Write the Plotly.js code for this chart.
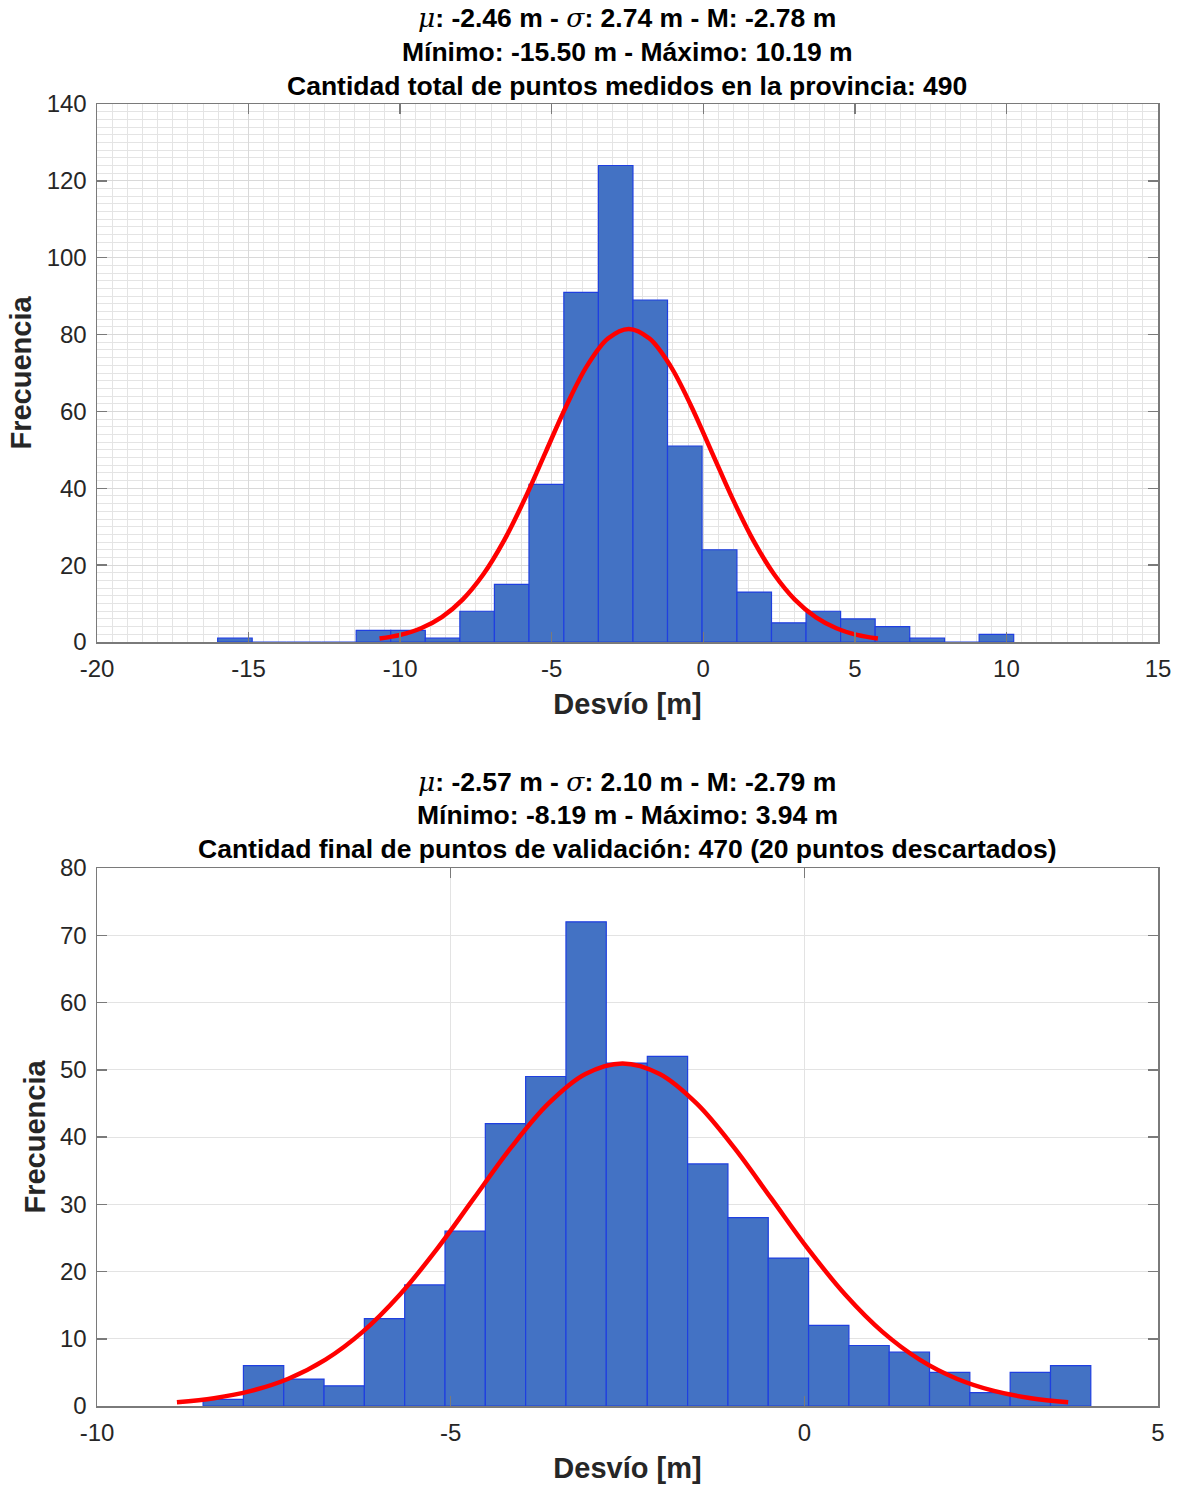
<!DOCTYPE html>
<html>
<head>
<meta charset="utf-8">
<script src="https://cdn.plot.ly/plotly-3.0.1.min.js"></script>
<style>
html,body{margin:0;padding:0;background:#fff;}
#chart{width:1178px;height:1488px;}
</style>
</head>
<body>
<div id="chart"></div>
<script>
// ---------- Data: top histogram (all measured points) ----------
const topEdges = [-16.02, -14.88, -13.74, -12.60, -11.45, -10.31, -9.17, -8.03, -6.89, -5.75,
  -4.60, -3.46, -2.32, -1.18, -0.04, 1.11, 2.25, 3.39, 4.53, 5.67, 6.81, 7.96, 9.10, 10.24];
const topCounts = [1, 0, 0, 0, 3, 3, 1, 8, 15, 41, 91, 124, 89, 51, 24, 13, 5, 8, 6, 4, 1, 0, 2];
// fitted normal curve
const topCurveX = [-10.68, -9.995, -9.31, -8.625, -7.94, -7.255, -6.57, -5.885, -5.20, -4.515,
  -3.83, -3.145, -2.46, -1.775, -1.09, -0.405, 0.28, 0.965, 1.65, 2.335, 3.02, 3.705, 4.39, 5.075, 5.76];
const topCurveY = [0.91, 1.86, 3.58, 6.48, 11.03, 17.62, 26.45, 37.30, 49.42, 61.50, 71.91, 78.97,
  81.48, 78.97, 71.91, 61.50, 49.42, 37.30, 26.45, 17.62, 11.03, 6.48, 3.58, 1.86, 0.91];
const topTitle = ["μ", ": -2.46 m - ", "σ", ": 2.74 m - M: -2.78 m",
  "Mínimo: -15.50 m - Máximo: 10.19 m",
  "Cantidad total de puntos medidos en la provincia: 490"];

// ---------- Data: bottom histogram (validation points) ----------
const botEdges = [-8.50, -7.93, -7.36, -6.79, -6.22, -5.65, -5.08, -4.51, -3.94, -3.37, -2.80,
  -2.22, -1.65, -1.08, -0.51, 0.06, 0.63, 1.20, 1.77, 2.34, 2.91, 3.48, 4.05];
const botCounts = [1, 6, 4, 3, 13, 18, 26, 42, 49, 72, 51, 52, 36, 28, 22, 12, 9, 8, 5, 2, 5, 6];
const botCurveX = [-8.87, -8.345, -7.82, -7.295, -6.77, -6.245, -5.72, -5.195, -4.67, -4.145,
  -3.62, -3.095, -2.57, -2.045, -1.52, -0.995, -0.47, 0.055, 0.58, 1.105, 1.63, 2.155, 2.68, 3.205, 3.73];
const botCurveY = [0.57, 1.16, 2.24, 4.05, 6.89, 11.02, 16.54, 23.32, 30.90, 38.45, 44.95, 49.37,
  50.94, 49.37, 44.95, 38.45, 30.90, 23.32, 16.54, 11.02, 6.89, 4.05, 2.24, 1.16, 0.57];
const botTitle = ["μ", ": -2.57 m - ", "σ", ": 2.10 m - M: -2.79 m",
  "Mínimo: -8.19 m - Máximo: 3.94 m",
  "Cantidad final de puntos de validación: 470 (20 puntos descartados)"];

const xTitle = "Desvío [m]";
const yTitle = "Frecuencia";
const topXTicks = [-20, -15, -10, -5, 0, 5, 10, 15];
const topXLabels = ["-20", "-15", "-10", "-5", "0", "5", "10", "15"];
const topYTicks = [0, 20, 40, 60, 80, 100, 120, 140];
const botXTicks = [-10, -5, 0, 5];
const botXLabels = ["-10", "-5", "0", "5"];
const botYTicks = [0, 10, 20, 30, 40, 50, 60, 70, 80];

// ---------- helpers ----------
function centers(e){ const c=[]; for(let i=0;i<e.length-1;i++) c.push((e[i]+e[i+1])/2); return c; }
function widths(e){ const w=[]; for(let i=0;i<e.length-1;i++) w.push(e[i+1]-e[i]); return w; }

const barFill = '#4372c4';
const barEdge = '#1f3fe0';
const txt = '#262626';
const FONT = 'Liberation Sans, Arial, sans-serif';

const traces = [
  {type:'bar', x:centers(topEdges), y:topCounts, width:widths(topEdges), xaxis:'x', yaxis:'y',
   marker:{color:barFill, line:{color:barEdge, width:1.2}}, hoverinfo:'x+y', showlegend:false},
  {type:'scatter', mode:'lines', x:topCurveX, y:topCurveY, xaxis:'x', yaxis:'y',
   line:{color:'#ff0000', width:4.5, shape:'spline'}, showlegend:false},
  {type:'bar', x:centers(botEdges), y:botCounts, width:widths(botEdges), xaxis:'x2', yaxis:'y2',
   marker:{color:barFill, line:{color:barEdge, width:1.2}}, hoverinfo:'x+y', showlegend:false},
  {type:'scatter', mode:'lines', x:botCurveX, y:botCurveY, xaxis:'x2', yaxis:'y2',
   line:{color:'#ff0000', width:4.5, shape:'spline'}, showlegend:false}
];

const H = 1488, W = 1178;
const xDom = [97/W, 1158/W];
const topDom = [1-642/H, 1-104/H];
const botDom = [1-1406/H, 1-868/H];

function axisBase(){
  return {
    showline:true, linecolor:'#7a7a7a', linewidth:1.5, mirror:'ticks',
    ticks:'inside', ticklen:10, tickwidth:1.5, tickcolor:'#7a7a7a',
    tickfont:{family:FONT, size:24, color:txt},
    zeroline:false, fixedrange:true
  };
}
const axTitleFont = {family:FONT, size:29, color:txt};

const xa1 = Object.assign(axisBase(), {domain:xDom, anchor:'y', range:[-20,15],
  tickvals:topXTicks, ticktext:topXLabels, ticklabelstandoff:5,
  showgrid:true, gridcolor:'#d9d9d9', gridwidth:1,
  minor:{dtick:0.5, showgrid:true, gridcolor:'#e4e4e4', gridwidth:1, ticks:''},
  title:{text:'<b>'+xTitle+'</b>', font:axTitleFont, standoff:12}});
const ya1 = Object.assign(axisBase(), {domain:topDom, anchor:'x', range:[0,140], tickvals:topYTicks,
  ticklabelstandoff:4,
  showgrid:true, gridcolor:'#d9d9d9', gridwidth:1,
  minor:{dtick:2, showgrid:true, gridcolor:'#e4e4e4', gridwidth:1, ticks:''},
  title:{text:'<b>'+yTitle+'</b>', font:axTitleFont, standoff:6}});
const xa2 = Object.assign(axisBase(), {domain:xDom, anchor:'y2', range:[-10,5],
  tickvals:botXTicks, ticktext:botXLabels, ticklabelstandoff:5,
  showgrid:true, gridcolor:'#e3e3e3', gridwidth:1,
  title:{text:'<b>'+xTitle+'</b>', font:axTitleFont, standoff:12}});
const ya2 = Object.assign(axisBase(), {domain:botDom, anchor:'x2', range:[0,80], tickvals:botYTicks,
  ticklabelstandoff:4,
  showgrid:true, gridcolor:'#e3e3e3', gridwidth:1,
  title:{text:'<b>'+yTitle+'</b>', font:axTitleFont, standoff:6}});

function greek(ch){ return '<span style="font-family:DejaVu Serif;font-weight:normal;font-style:italic">'+ch+'</span>'; }
function titleAnn(t, yTopPx){
  const lines = [
    greek(t[0]) + '<b>' + t[1] + '</b>' + greek(t[2]) + '<b>' + t[3] + '</b>',
    '<b>' + t[4] + '</b>',
    '<b>' + t[5] + '</b>'
  ];
  return lines.map((s,i)=>({
    text:s, xref:'paper', yref:'paper', x:(xDom[0]+xDom[1])/2, y:1-(yTopPx+i*34)/H,
    xanchor:'center', yanchor:'middle', showarrow:false,
    font:{family:FONT, size:26.5, color:'#000'}
  }));
}

const layout = {
  width:W, height:H, margin:{l:0,r:0,t:0,b:0},
  paper_bgcolor:'#ffffff', plot_bgcolor:'#ffffff',
  barmode:'overlay', bargap:0, showlegend:false,
  xaxis:xa1, yaxis:ya1, xaxis2:xa2, yaxis2:ya2,
  annotations: titleAnn(topTitle, 18).concat(titleAnn(botTitle, 781))
};

Plotly.newPlot('chart', traces, layout, {displayModeBar:false, staticPlot:true});
</script>
</body>
</html>
